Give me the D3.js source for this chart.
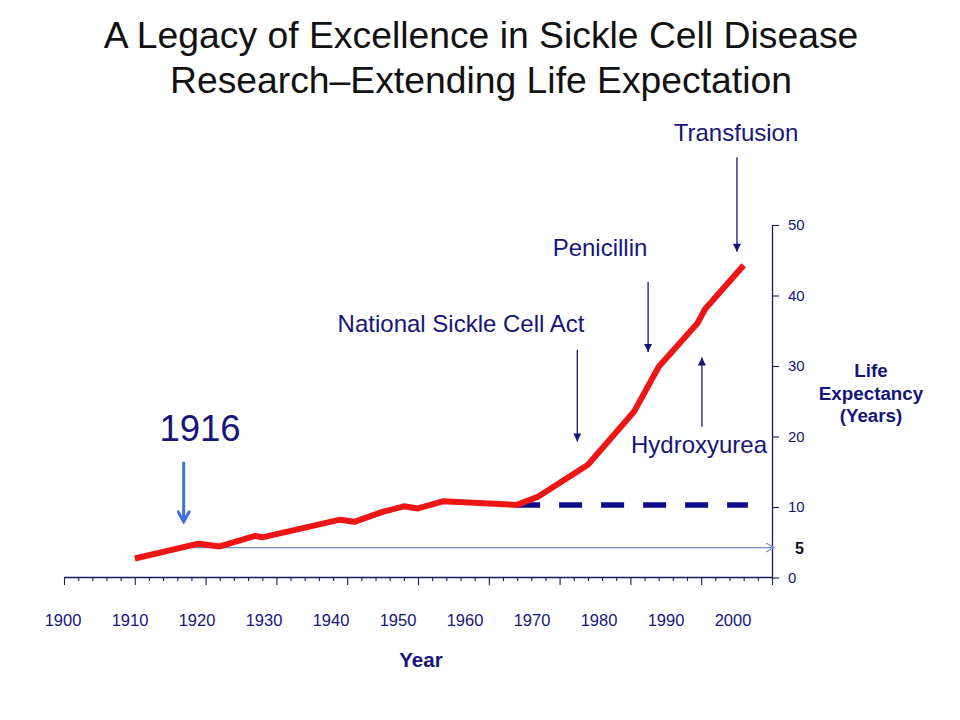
<!DOCTYPE html>
<html><head><meta charset="utf-8">
<script src="https://cdn.jsdelivr.net/npm/d3@7"></script>
<style>
body{margin:0;background:#fff;}
text{font-family:"Liberation Sans", Arial, sans-serif;}
</style>
</head><body><svg id="c" width="960" height="720"></svg>
<script>
// ---- data ----
const titleLines = ["A Legacy of Excellence in Sickle Cell Disease", "Research\u2013Extending Life Expectation"];
const years = [1910, 1919, 1922, 1927, 1928, 1939, 1941, 1945, 1948, 1950, 1953.5, 1964, 1967, 1974, 1980.5, 1984, 1989.5, 1990.5, 1996];
const lifeExpectancy = [2.7, 4.8, 4.4, 5.9, 5.7, 8.2, 7.9, 9.3, 10.1, 9.8, 10.8, 10.3, 11.5, 16.0, 23.5, 29.9, 36.1, 38.0, 44.3];
const untreatedYears = [1964, 1996.6];
const untreatedValues = [10.3, 10.3];
const xTickLabels = ["1900","1910","1920","1930","1940","1950","1960","1970","1980","1990","2000"];
const yTickValues = [0, 10, 20, 30, 40, 50];
const refLabel = "5";
const refValue = 4.25;
const refStartYear = 1917;
const eventNames = ["Transfusion", "Penicillin", "National Sickle Cell Act", "Hydroxyurea", "1916"];
const eventYears = [1995.05, 1982.5, 1972.5, 1990.1, 1916.9];
const eventFrom = [59.6, 41.9, 32.3, 21.4, 16.4];
const eventTo = [46.2, 32.0, 19.3, 31.2, 7.9];
const xTitle = "Year";
const yTitleLines = ["Life", "Expectancy", "(Years)"];

// ---- layout ----
const navy = "#15157a";
const svg = d3.select("#c");
const x = d3.scaleLinear([1900, 2000], [64, 772]);
const y = d3.scaleLinear([0, 50], [577.5, 225]);
const xLab = d3.scalePoint(xTickLabels, [63, 733]);

const defs = svg.append("defs");
defs.append("marker").attr("id","tri").attr("markerUnits","userSpaceOnUse")
  .attr("viewBox","0 0 10 10").attr("refX",10).attr("refY",5)
  .attr("markerWidth",9).attr("markerHeight",8).attr("orient","auto")
  .append("path").attr("d","M0,0L10,5L0,10Z").attr("fill",navy);
defs.append("marker").attr("id","chev").attr("markerUnits","userSpaceOnUse")
  .attr("viewBox","-12 -7 14 14").attr("refX",0).attr("refY",0)
  .attr("markerWidth",14).attr("markerHeight",14).attr("orient","auto")
  .append("path").attr("d","M-10,-5.5L0,0L-10,5.5").attr("fill","none")
  .attr("stroke","#3f6fe0").attr("stroke-width",3).attr("stroke-linecap","round");
defs.append("marker").attr("id","thin").attr("markerUnits","userSpaceOnUse")
  .attr("viewBox","-10 -6 12 12").attr("refX",0).attr("refY",0)
  .attr("markerWidth",12).attr("markerHeight",12).attr("orient","auto")
  .append("path").attr("d","M-8,-4.5L0,0L-8,4.5").attr("fill","none")
  .attr("stroke","#7090c8").attr("stroke-width",1.2);

// title
svg.append("g").selectAll("text").data(titleLines).join("text")
  .attr("x", 481).attr("y", (d,i) => 48 + i*45)
  .attr("text-anchor","middle").attr("font-size",37.3).attr("fill","#111")
  .text(d => d);

// x axis
const xAxis = svg.append("g").attr("transform","translate(0,577)")
  .call(d3.axisBottom(x).tickValues(d3.range(1900, 2001, 2)).tickFormat("").tickSizeOuter(0));
xAxis.select(".domain").attr("stroke", "#1a1a5e").attr("stroke-width", 1.3);
xAxis.selectAll(".tick line").attr("stroke","#1a1a5e").attr("stroke-width",1.1)
  .attr("y2", d => d % 10 === 0 ? 8 : 4);
svg.append("g").selectAll("text").data(xTickLabels).join("text")
  .attr("x", d => xLab(d)).attr("y", 626).attr("text-anchor","middle")
  .attr("font-size",16.5).attr("fill",navy).text(d => d);

// y axis (right)
const yAxis = svg.append("g").attr("transform","translate(772,0)")
  .call(d3.axisRight(y).tickValues(yTickValues).tickSize(7).tickPadding(9).tickSizeOuter(0));
yAxis.select(".domain").attr("stroke","#1a1a5e").attr("stroke-width",1.3);
yAxis.selectAll(".tick line").attr("stroke","#1a1a5e").attr("stroke-width",1.1);
yAxis.selectAll(".tick text").attr("font-size",15).attr("fill",navy)
  .attr("font-family","Liberation Sans, Arial, sans-serif");

// reference arrow
svg.append("line")
  .attr("x1", x(refStartYear)).attr("x2", x(2000) + 2)
  .attr("y1", y(refValue)).attr("y2", y(refValue))
  .attr("stroke","#7090c8").attr("stroke-width",1.2).attr("marker-end","url(#thin)");
svg.append("text").attr("x", 795).attr("y", y(refValue) + 6)
  .attr("font-size",16).attr("font-weight","bold").attr("fill","#111").text(refLabel);

// untreated dashed line
svg.append("path").datum(untreatedYears.map((yr,i)=>[yr, untreatedValues[i]]))
  .attr("d", d3.line().x(d=>x(d[0])).y(d=>y(d[1])))
  .attr("fill","none").attr("stroke","#0c0c8c").attr("stroke-width",5.5)
  .attr("stroke-dasharray","23,19");

// red line
svg.append("path").datum(years.map((yr,i)=>[yr, lifeExpectancy[i]]))
  .attr("d", d3.line().x(d=>x(d[0])).y(d=>y(d[1])))
  .attr("fill","none").attr("stroke","#ee1515").attr("stroke-width",6)
  .attr("stroke-linejoin","round");

// event arrows
const evLayout = [
  {tx:736, ty:141, size:24},
  {tx:600, ty:256, size:24},
  {tx:461, ty:332, size:24},
  {tx:699, ty:453, size:24},
  {tx:200, ty:441, size:36.5}
];
eventNames.forEach((name, i) => {
  const last = i === 4;
  svg.append("line")
    .attr("x1", x(eventYears[i])).attr("x2", x(eventYears[i]))
    .attr("y1", y(eventFrom[i])).attr("y2", y(eventTo[i]))
    .attr("stroke", last ? "#3f6fe0" : navy).attr("stroke-width", last ? 3 : 1.3)
    .attr("marker-end", last ? "url(#chev)" : "url(#tri)");
  svg.append("text").attr("x", evLayout[i].tx).attr("y", evLayout[i].ty)
    .attr("text-anchor","middle").attr("font-size", evLayout[i].size)
    .attr("fill", navy).text(name);
});

// axis titles
svg.append("text").attr("x", 421).attr("y", 667).attr("text-anchor","middle")
  .attr("font-size",20.5).attr("font-weight","bold").attr("fill",navy).text(xTitle);
svg.append("g").selectAll("text").data(yTitleLines).join("text")
  .attr("x", 871).attr("y", (d,i) => 377 + i*22.5).attr("text-anchor","middle")
  .attr("font-size",18.8).attr("font-weight","bold").attr("fill",navy).text(d => d);
</script>
</body></html>
